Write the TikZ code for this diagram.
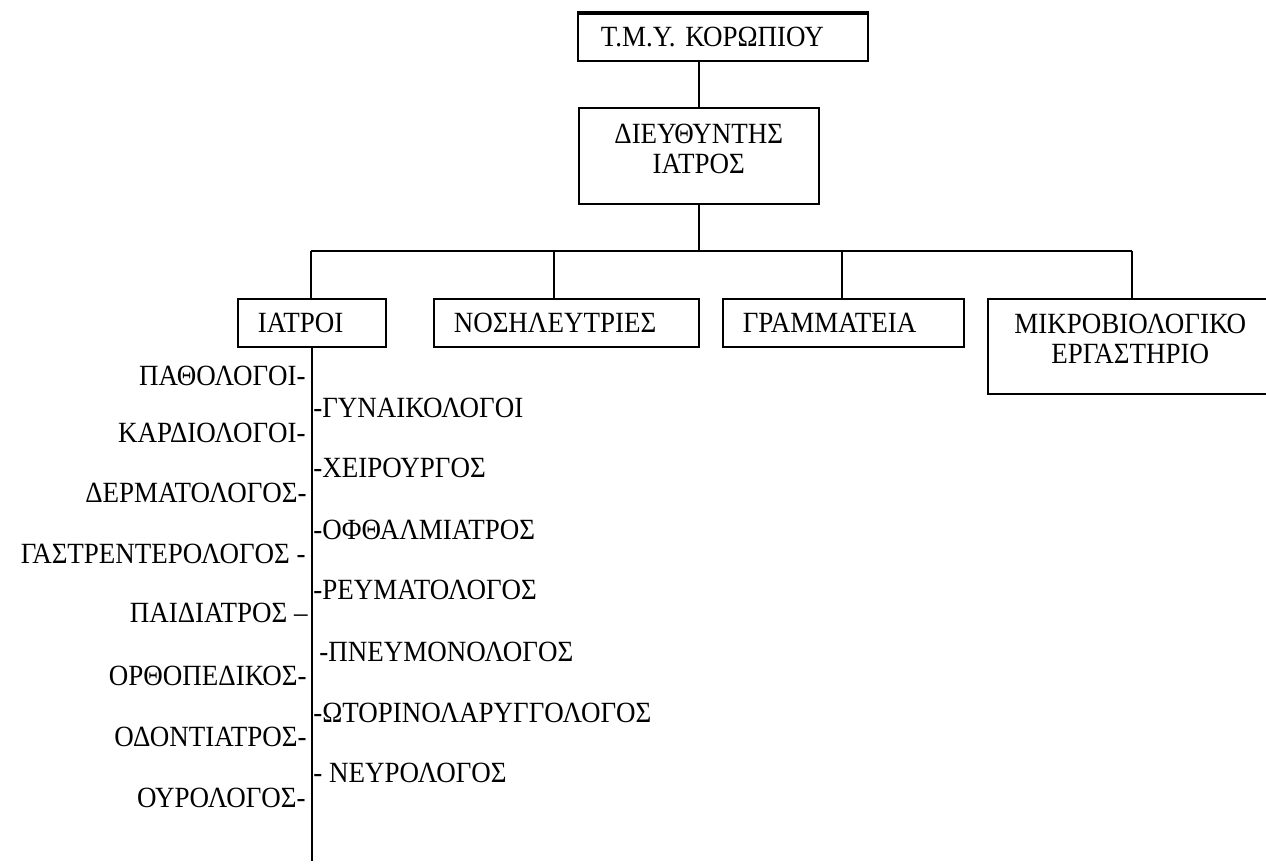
\documentclass[tikz,border=0pt]{standalone}
\usepackage{fontspec}
\setmainfont{Liberation Serif}[FakeStretch=0.92]
\usepackage{tikz}
\usepackage{xcolor}

\newcommand{\orgfont}{\fontsize{16.7pt}{17.1pt}\selectfont}
\tikzset{
  unitbox/.style={draw, line width=0.9pt, inner ysep=0pt, anchor=north west, font=\orgfont},
  twoline/.style={text height=0.39cm, text depth=0.9cm},
  spec/.style={inner sep=0pt, font=\orgfont},
  link/.style={line width=0.9pt}
}

\begin{document}
\begin{tikzpicture}[x=0.02cm, y=-0.02cm]
\useasboundingbox (0,0) rectangle (1266,863);

\node[unitbox, minimum height=0.94cm, inner xsep=0.46cm, text width=4.88cm, align=left] (korop) at (577,13) {Τ.Μ.Υ. ΚΟΡΩΠΙΟΥ};
\draw[line width=2pt] (korop.north west) -- (korop.north east);
\node[unitbox, twoline, minimum height=1.92cm, inner xsep=0pt, text width=4.8cm, align=center] (dieuth) at (578,107) {ΔΙΕΥΘΥΝΤΗΣ\\ΙΑΤΡΟΣ};

\node[unitbox, minimum height=0.96cm, inner xsep=0.4cm, text width=2.16cm, align=left] (iatroi) at (237,298) {ΙΑΤΡΟΙ};
\node[unitbox, minimum height=0.96cm, inner xsep=0.4cm, text width=4.5cm, align=left] (nosil) at (433,298) {ΝΟΣΗΛΕΥΤΡΙΕΣ};
\node[unitbox, minimum height=0.96cm, inner xsep=0.4cm, text width=4.02cm, align=left] (gram) at (722,298) {ΓΡΑΜΜΑΤΕΙΑ};
\node[unitbox, twoline, minimum height=1.9cm, inner xsep=0pt, text width=5.7cm, align=center] (mikro) at (987,298) {ΜΙΚΡΟΒΙΟΛΟΓΙΚΟ\\ΕΡΓΑΣΤΗΡΙΟ};

\coordinate (bus) at (697,251);
\coordinate (b1) at (311,251);
\coordinate (b2) at (554,251);
\coordinate (b3) at (842,251);
\coordinate (b4) at (1132,251);
\coordinate (iend) at (311,861);

\draw[link] (korop.south -| dieuth.north) -- (dieuth.north);
\draw[link] (dieuth.south) -- (dieuth.south |- bus);
\draw[link] (b1) -- (b4);
\draw[link] (b1) -- (b1 |- iatroi.north);
\draw[link] (b2) -- (b2 |- nosil.north);
\draw[link] (b3) -- (b3 |- gram.north);
\draw[link] (b4) -- (b4 |- mikro.north);
\draw[link] (iatroi.south) -- (iatroi.south |- iend);

\node[spec, anchor=base east] (patho) at (306,385) {ΠΑΘΟΛΟΓΟΙ-};
\node[spec, anchor=base east] (kardio) at (306,442) {ΚΑΡΔΙΟΛΟΓΟΙ-};
\node[spec, anchor=base east] (derma) at (307,502) {ΔΕΡΜΑΤΟΛΟΓΟΣ-};
\node[spec, anchor=base east] (gastr) at (306,563) {ΓΑΣΤΡΕΝΤΕΡΟΛΟΓΟΣ -};
\node[spec, anchor=base east] (paidi) at (308,622) {ΠΑΙΔΙΑΤΡΟΣ –};
\node[spec, anchor=base east] (ortho) at (307,685) {ΟΡΘΟΠΕΔΙΚΟΣ-};
\node[spec, anchor=base east] (odont) at (307,746) {ΟΔΟΝΤΙΑΤΡΟΣ-};
\node[spec, anchor=base east] (ourol) at (306,807) {ΟΥΡΟΛΟΓΟΣ-};

\node[spec, anchor=base west] (gynai) at (313,417) {-ΓΥΝΑΙΚΟΛΟΓΟΙ};
\node[spec, anchor=base west] (cheir) at (313,477) {-ΧΕΙΡΟΥΡΓΟΣ};
\node[spec, anchor=base west] (ofthal) at (313,539) {-ΟΦΘΑΛΜΙΑΤΡΟΣ};
\node[spec, anchor=base west] (reuma) at (313,599) {-ΡΕΥΜΑΤΟΛΟΓΟΣ};
\node[spec, anchor=base west] (pneum) at (319,661) {-ΠΝΕΥΜΟΝΟΛΟΓΟΣ};
\node[spec, anchor=base west] (otori) at (313,722) {-ΩΤΟΡΙΝΟΛΑΡΥΓΓΟΛΟΓΟΣ};
\node[spec, anchor=base west] (neuro) at (313,782) {- ΝΕΥΡΟΛΟΓΟΣ};

\end{tikzpicture}
\end{document}
